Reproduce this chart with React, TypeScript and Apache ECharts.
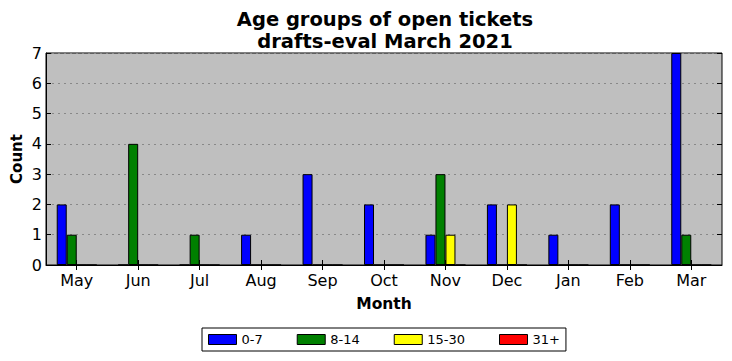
import React, { useEffect, useRef } from "react";
import * as echarts from "echarts";

const months = ["May", "Jun", "Jul", "Aug", "Sep", "Oct", "Nov", "Dec", "Jan", "Feb", "Mar"];
const age0to7 = [2, 0, 0, 1, 3, 2, 1, 2, 1, 2, 7];
const age8to14 = [1, 4, 1, 0, 0, 0, 3, 0, 0, 0, 1];
const age15to30 = [0, 0, 0, 0, 0, 0, 1, 2, 0, 0, 0];
const age31plus = [0, 0, 0, 0, 0, 0, 0, 0, 0, 0, 0];
const seriesNames = ["0-7", "8-14", "15-30", "31+"];
const seriesColors = ["#0000ff", "#008000", "#ffff00", "#ff0000"];
const yTicks = [0, 1, 2, 3, 4, 5, 6, 7];

const FONT = "DejaVu Sans";

export default function App() {
  const ref = useRef<HTMLDivElement>(null);
  useEffect(() => {
    if (!ref.current) return;
    const chart = echarts.init(ref.current, null, { renderer: "svg" });
    const values = [age0to7, age8to14, age15to30, age31plus];
    chart.setOption({
      animation: false,
      textStyle: { fontFamily: FONT },
      title: {
        text: "Age groups of open tickets\ndrafts-eval March 2021",
        left: 380,
        textAlign: "center",
        top: 3,
        textStyle: { fontFamily: FONT, fontSize: 19.5, fontWeight: "bold", color: "#000", lineHeight: 22 },
      },
      legend: {
        bottom: 10,
        left: 202,
        width: 365,
        itemWidth: 28,
        itemHeight: 10,
        itemGap: 34,
        padding: [5, 6, 5, 6],
        borderColor: "#000",
        borderWidth: 1,
        icon: "rect",
        data: seriesNames.map((n) => ({ name: n, itemStyle: { borderColor: "#000", borderWidth: 1 } })),
        textStyle: { fontFamily: FONT, fontSize: 13, color: "#000" },
      },
      grid: {
        left: 46,
        right: 10,
        top: 53,
        bottom: 96,
        show: true,
        backgroundColor: "#bfbfbf",
        borderColor: "#000",
        borderWidth: 1,
        containLabel: false,
        outerBoundsMode: "none",
      },
      xAxis: [
        {
          type: "category",
          data: months,
          name: "Month",
          nameLocation: "middle",
          nameGap: 31,
          nameMoveOverlap: false,
          nameTextStyle: { fontFamily: FONT, fontSize: 15.5, fontWeight: "bold", color: "#000" },
          axisLine: { show: true, lineStyle: { color: "#000" } },
          axisTick: { show: true, inside: true, alignWithLabel: true, length: 5, lineStyle: { color: "#000" } },
          axisLabel: { fontFamily: FONT, fontSize: 16, color: "#000", margin: 7 },
          splitLine: { show: false },
        },
        {
          type: "category",
          data: months,
          position: "top",
          axisLine: { show: false },
          axisTick: { show: true, inside: true, alignWithLabel: true, length: 5, lineStyle: { color: "#000" } },
          axisLabel: { show: false },
        },
      ],
      yAxis: [
        {
          type: "value",
          min: 0,
          max: 7,
          interval: 1,
          name: "Count",
          nameLocation: "middle",
          nameGap: 22,
          nameMoveOverlap: false,
          nameTextStyle: { fontFamily: FONT, fontSize: 15, fontWeight: "bold", color: "#000" },
          axisLine: { show: true, lineStyle: { color: "#000" } },
          axisTick: { show: true, inside: true, length: 5, lineStyle: { color: "#000" } },
          axisLabel: { fontFamily: FONT, fontSize: 16, color: "#000", margin: 4, formatter: (v: number) => (yTicks.includes(v) ? String(v) : "") },
          splitLine: { show: true, lineStyle: { color: "#888", type: [2, 4], width: 1 } },
        },
        {
          type: "value",
          min: 0,
          max: 7,
          interval: 1,
          position: "right",
          axisLine: { show: false },
          axisTick: { show: true, inside: true, length: 5, lineStyle: { color: "#000" } },
          axisLabel: { show: false },
          splitLine: { show: false },
        },
      ],
      series: seriesNames.map((name, i) => ({
        name,
        type: "bar",
        data: values[i],
        xAxisIndex: 0,
        yAxisIndex: 0,
        barWidth: 10,
        barGap: "0%",
        itemStyle: { color: seriesColors[i], borderColor: "#000", borderWidth: 1 },
      })),
    });
    return () => chart.dispose();
  }, []);
  return <div ref={ref} style={{ width: 732, height: 361, position: "absolute", left: 0, top: 0 }} />;
}
